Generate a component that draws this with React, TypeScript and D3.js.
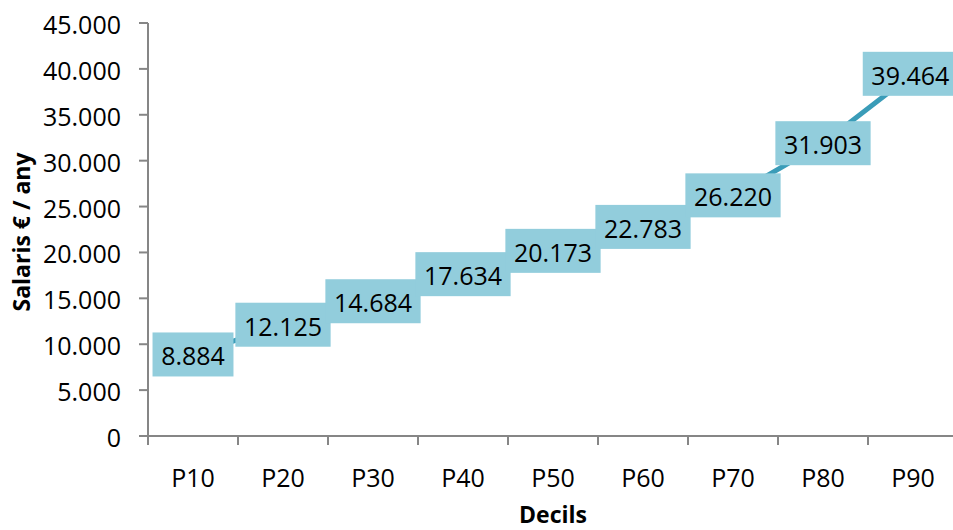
import React from "react";
import * as d3 from "d3";

const categories = ["P10", "P20", "P30", "P40", "P50", "P60", "P70", "P80", "P90"];
const values = [8884, 12125, 14684, 17634, 20173, 22783, 26220, 31903, 39464];
const yTicks = [0, 5000, 10000, 15000, 20000, 25000, 30000, 35000, 40000, 45000];

const W = 953;
const H = 530;
const left = 148;
const right = 958;
const top = 23;
const bottom = 436;
const FONT = "'Segoe UI', 'Open Sans', 'Noto Sans', sans-serif";
const FS = 25;

const fmt = (v: number) => d3.format(",")(v).replace(/,/g, ".");

export default function App() {
  const x = d3.scaleBand<string>().domain(categories).range([left, right]).padding(0);
  const y = d3.scaleLinear().domain([0, 45000]).range([bottom, top]);
  const cx = (c: string) => (x(c) as number) + x.bandwidth() / 2;
  const line = d3
    .line<number>()
    .x((_, i) => cx(categories[i]))
    .y((d) => y(d));
  const boxH = 44;
  const textW = (s: string) =>
    s.split("").reduce((a, ch) => a + (ch === "." ? 0.27 : 0.572) * FS, 0);
  return (
    <svg width={W} height={H} style={{ position: "absolute", left: 0, top: 0 }}>
      <rect x={0} y={0} width={W} height={H} fill="#fff" />
      {/* y axis */}
      <line x1={left} x2={left} y1={top} y2={bottom} stroke="#868686" strokeWidth={2} />
      {yTicks.map((t) => (
        <g key={t}>
          <line x1={left - 9} x2={left} y1={y(t)} y2={y(t)} stroke="#868686" strokeWidth={2} />
          <text
            x={left - 27}
            y={y(t) + 1}
            textAnchor="end"
            dominantBaseline="central"
            fontFamily={FONT}
            fontSize={FS}
            fill="#000"
          >
            {fmt(t)}
          </text>
        </g>
      ))}
      {/* x axis */}
      <line x1={left - 9} x2={right} y1={bottom} y2={bottom} stroke="#868686" strokeWidth={2} />
      {categories.map((c) => (
        <line
          key={"t" + c}
          x1={x(c) as number}
          x2={x(c) as number}
          y1={bottom}
          y2={bottom + 9}
          stroke="#868686"
          strokeWidth={2}
        />
      ))}
      {categories.map((c) => (
        <text
          key={"l" + c}
          x={cx(c)}
          y={477}
          textAnchor="middle"
          dominantBaseline="central"
          fontFamily={FONT}
          fontSize={FS}
          fill="#000"
        >
          {c}
        </text>
      ))}
      {/* line */}
      <path d={line(values) || ""} fill="none" stroke="#3a9cb8" strokeWidth={5} />
      {/* labels */}
      {values.map((v, i) => {
        const s = fmt(v);
        const bw = textW(s) + 17;
        let bx = cx(categories[i]) - bw / 2;
        if (bx + bw > W + 5) bx = W + 5 - bw;
        const by = y(v) - boxH / 2;
        return (
          <g key={"b" + i}>
            <rect x={bx} y={by} width={bw} height={boxH} fill="#92cddc" />
            <text
              x={bx + bw / 2}
              y={y(v) + 1}
              textAnchor="middle"
              dominantBaseline="central"
              fontFamily={FONT}
              fontSize={FS}
              fill="#000"
            >
              {s}
            </text>
          </g>
        );
      })}
      {/* axis titles */}
      <text
        x={553}
        y={514}
        textAnchor="middle"
        dominantBaseline="central"
        fontFamily={FONT}
        fontSize={23}
        fontWeight="bold"
        fill="#000"
      >
        Decils
      </text>
      <text
        transform={`translate(21, 232) rotate(-90)`}
        textAnchor="middle"
        dominantBaseline="central"
        fontFamily={FONT}
        fontSize={23}
        fontWeight="bold"
        fill="#000"
      >
        Salaris € / any
      </text>
    </svg>
  );
}
